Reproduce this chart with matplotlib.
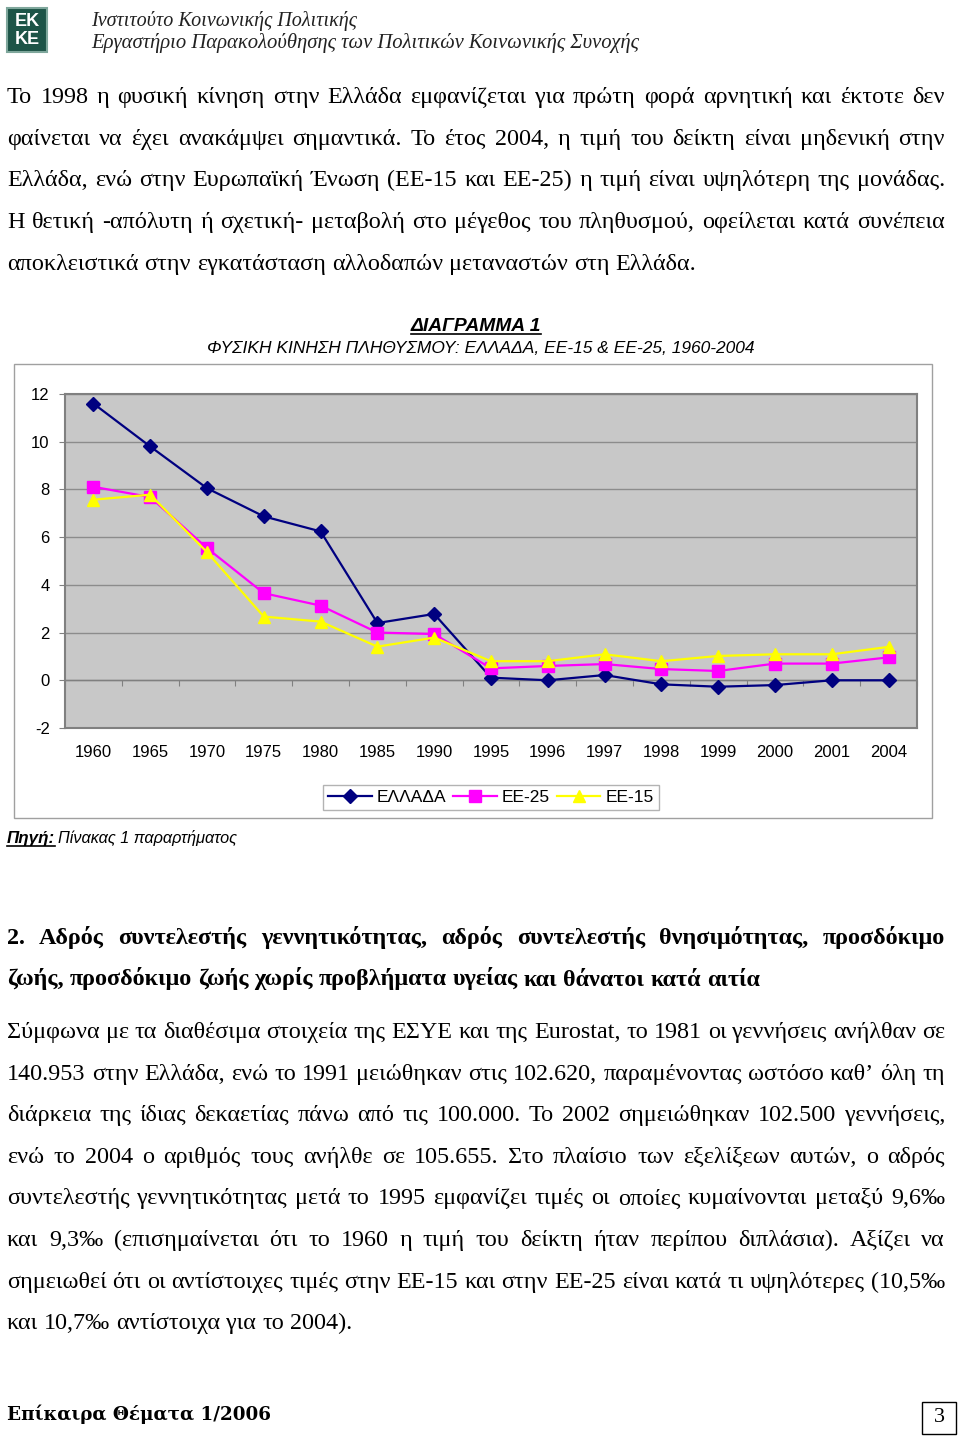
import matplotlib.pyplot as plt
import numpy as np
from matplotlib.patches import Rectangle
from matplotlib.lines import Line2D

# Chart data
years = ['1960', '1965', '1970', '1975', '1980', '1985', '1990', '1995',
         '1996', '1997', '1998', '1999', '2000', '2001', '2004']
greece = [11.6, 9.8, 8.05, 6.87, 6.24, 2.4, 2.78, 0.11, 0.0, 0.22, -0.17, -0.27, -0.2, 0.0, 0.0]
eu25 = [8.11, 7.68, 5.54, 3.65, 3.13, 2.0, 1.94, 0.5, 0.6, 0.68, 0.47, 0.39, 0.7, 0.7, 0.96]
eu15 = [7.57, 7.78, 5.37, 2.67, 2.46, 1.41, 1.79, 0.8, 0.8, 1.09, 0.8, 1.02, 1.09, 1.09, 1.4]
series_names = ['ΕΛΛΑΔΑ', 'ΕΕ-25', 'ΕΕ-15']
yticks = [-2, 0, 2, 4, 6, 8, 10, 12]

# Page text
header1 = 'Ινστιτούτο Κοινωνικής Πολιτικής'
header2 = 'Εργαστήριο Παρακολούθησης των Πολιτικών Κοινωνικής Συνοχής'
para1 = [
    'Το 1998 η φυσική κίνηση στην Ελλάδα εμφανίζεται για πρώτη φορά αρνητική και έκτοτε δεν',
    'φαίνεται να έχει ανακάμψει σημαντικά. Το έτος 2004, η τιμή του δείκτη είναι μηδενική στην',
    'Ελλάδα, ενώ στην Ευρωπαϊκή Ένωση (ΕΕ-15 και ΕΕ-25) η τιμή είναι υψηλότερη της μονάδας.',
    'Η θετική -απόλυτη ή σχετική- μεταβολή στο μέγεθος του πληθυσμού, οφείλεται κατά συνέπεια',
    'αποκλειστικά στην εγκατάσταση αλλοδαπών μεταναστών στη Ελλάδα.',
]
chart_title = 'ΔΙΑΓΡΑΜΜΑ 1'
chart_sub = 'ΦΥΣΙΚΗ ΚΙΝΗΣΗ ΠΛΗΘΥΣΜΟΥ: ΕΛΛΑΔΑ, ΕΕ-15 & ΕΕ-25, 1960-2004'
heading = [
    '2. Αδρός συντελεστής γεννητικότητας, αδρός συντελεστής θνησιμότητας, προσδόκιμο',
    'ζωής,  προσδόκιμο ζωής χωρίς προβλήματα υγείας και θάνατοι κατά αιτία',
]
para3 = [
    'Σύμφωνα με τα διαθέσιμα στοιχεία της ΕΣΥΕ και της Eurostat, το 1981 οι γεννήσεις ανήλθαν σε',
    '140.953 στην Ελλάδα, ενώ το 1991 μειώθηκαν στις 102.620, παραμένοντας ωστόσο καθ’ όλη τη',
    'διάρκεια της ίδιας δεκαετίας πάνω από τις 100.000. Το 2002 σημειώθηκαν 102.500 γεννήσεις,',
    'ενώ το 2004 ο αριθμός τους ανήλθε σε 105.655. Στο πλαίσιο των εξελίξεων αυτών, ο αδρός',
    'συντελεστής γεννητικότητας μετά το 1995 εμφανίζει τιμές οι οποίες κυμαίνονται μεταξύ 9,6‰',
    'και 9,3‰ (επισημαίνεται ότι το 1960 η τιμή του δείκτη ήταν περίπου διπλάσια). Αξίζει να',
    'σημειωθεί ότι οι αντίστοιχες τιμές στην ΕΕ-15 και στην ΕΕ-25 είναι κατά τι υψηλότερες (10,5‰',
    'και 10,7‰ αντίστοιχα για το 2004).',
]

W, H = 960, 1438
fig = plt.figure(figsize=(W / 100, H / 100), dpi=100)
r = fig.canvas.get_renderer()
SERIF = 'Liberation Serif'
SANS = 'Liberation Sans'


def fx(x):
    return x / W


def fy(y):
    return 1 - y / H


def width(t):
    return t.get_window_extent(renderer=r).width


def fit(s, x0, x1, y, **kw):
    t = fig.text(fx(x0), fy(y), s, va='baseline', fontsize=12, **kw)
    t.set_fontsize(12 * (x1 - x0) / width(t))
    return t


def justify(s, y, size, x0=7, x1=945, last=False, **kw):
    words = s.split()
    ts = [fig.text(0, fy(y), w, va='baseline', fontsize=size, **kw) for w in words]
    ws = [width(t) for t in ts]
    if last:
        a2 = fig.text(0, 0, 'a a', fontsize=size, **kw)
        a1 = fig.text(0, 0, 'a', fontsize=size, **kw)
        gap = width(a2) - 2 * width(a1)
        a2.remove()
        a1.remove()
    else:
        gap = (x1 - x0 - sum(ws)) / (len(words) - 1)
    x = x0
    for t, w in zip(ts, ws):
        t.set_x(fx(x))
        x += w + gap


# logo
fig.patches.append(Rectangle((fx(7), fy(52)), 40 / W, 44 / H, transform=fig.transFigure,
                             facecolor='#1d5447', edgecolor='#7fa79c', lw=1.5))
fig.text(fx(27), fy(21), 'EK', color='white', fontsize=13, fontweight='bold',
         ha='center', va='center', family=SANS)
fig.text(fx(27), fy(39), 'KE', color='white', fontsize=13, fontweight='bold',
         ha='center', va='center', family=SANS)

fit(header1, 91, 357, 26, family=SERIF, style='italic', color='#222222')
fit(header2, 91, 637, 48, family=SERIF, style='italic', color='#222222')

# body size from the last (unjustified) line of first paragraph
probe = fit(para1[-1], 7, 693, -100, family=SERIF)
body = probe.get_fontsize()
probe.remove()

for i, line in enumerate(para1):
    justify(line, 103 + i * 41.7, body, last=(i == len(para1) - 1), family=SERIF)

# chart titles
fit(chart_title, 411, 541, 331, family=SANS, style='italic', fontweight='bold')
fig.add_artist(Line2D([fx(411), fx(541)], [fy(334), fy(334)], color='black', lw=1.2))
fit(chart_sub, 207, 753, 353, family=SANS, style='italic')

# chart frame (behind the axes)
fig.patches.append(Rectangle((fx(14), fy(818)), (932 - 14) / W, (818 - 364) / H,
                             transform=fig.transFigure, facecolor='white',
                             edgecolor='#a0a0a0', lw=1, zorder=-5))

ax = fig.add_axes([fx(65), fy(728), (917 - 65) / W, (728 - 394) / H], zorder=2)
ax.set_facecolor('#c8c8c8')
x = np.arange(len(years))
ax.plot(x, greece, color='#000080', marker='D', ms=7, lw=1.6, label=series_names[0], zorder=3)
ax.plot(x, eu25, color='#ff00ff', marker='s', ms=8, lw=1.6, label=series_names[1], zorder=4)
ax.plot(x, eu15, color='#ffff00', marker='^', ms=9, lw=1.6, label=series_names[2], zorder=5)
ax.set_xlim(-0.5, len(years) - 0.5)
ax.set_ylim(-2, 12)
ax.set_yticks(yticks)
ax.set_yticklabels([str(v) for v in yticks], family=SANS, fontsize=12)
ax.set_xticks(x)
ax.set_xticklabels(years, family=SANS, fontsize=12)
ax.tick_params(axis='x', length=0, pad=12)
ax.tick_params(axis='y', length=4, color='#808080', pad=7)
ax.yaxis.grid(True, color='#8c8c8c', lw=1)
ax.set_axisbelow(True)
for sp in ax.spines.values():
    sp.set_color('#808080')
    sp.set_linewidth(1.5)
ax.axhline(0, color='#808080', lw=1, zorder=1)
sec = ax.secondary_xaxis(2 / 14)
sec.set_xticks(np.arange(-0.5, len(years), 1))
sec.set_xticklabels([])
sec.tick_params(length=4, color='#808080', direction='out')
sec.spines['bottom'].set_visible(False)

leg = fig.legend(loc='center', bbox_to_anchor=(fx(491), fy(797.5)), ncol=3,
                 prop={'family': SANS, 'size': 12.5}, frameon=True, fancybox=False,
                 handlelength=2.5, handletextpad=0.3, columnspacing=0.4,
                 borderpad=0.3, borderaxespad=0, edgecolor='#a0a0a0')
leg.get_frame().set_linewidth(1)

# source
fit('Πηγή:', 7, 55, 843, family=SANS, style='italic', fontweight='bold')
fig.add_artist(Line2D([fx(7), fx(55)], [fy(846), fy(846)], color='black', lw=1.2))
fit('Πίνακας 1 παραρτήματος', 58, 237, 843, family=SANS, style='italic')

# section heading
for i, line in enumerate(heading):
    justify(line, 944 + i * 41.5, body, last=(i == 1), family=SERIF, fontweight='bold')

for i, line in enumerate(para3):
    justify(line, 1038 + i * 41.6, body, last=(i == len(para3) - 1), family=SERIF)

# footer
fit('Επίκαιρα Θέματα 1/2006', 7, 270, 1420, family='DejaVu Serif', fontweight='bold')
fig.patches.append(Rectangle((fx(922), fy(1434)), 34 / W, 32 / H, transform=fig.transFigure,
                             facecolor='white', edgecolor='black', lw=1))
fig.text(fx(939), fy(1418), '3', family=SERIF, fontsize=16, ha='center', va='center')

fig.savefig('out.png', dpi=100)
